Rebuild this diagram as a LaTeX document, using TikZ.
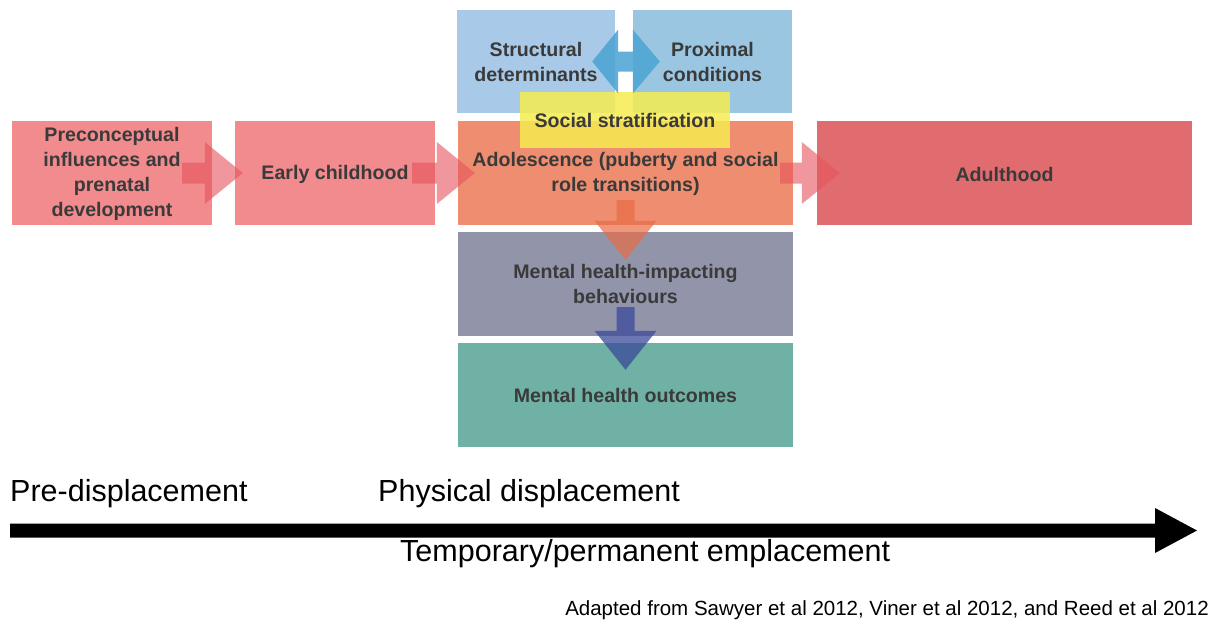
\documentclass[tikz,border=0pt]{standalone}
\usepackage{fontspec}
\setmainfont{Liberation Sans}
\usetikzlibrary{calc}

\definecolor{pinkbox}{HTML}{F28B8D}
\definecolor{adultbox}{HTML}{E06C6F}
\definecolor{adolbox}{HTML}{EE8D6F}
\definecolor{structbox}{HTML}{A8C9E8}
\definecolor{proxbox}{HTML}{9BC6E1}
\definecolor{stratbox}{HTML}{F6EC50}
\definecolor{behavbox}{HTML}{9294AA}
\definecolor{outbox}{HTML}{6FB1A5}
\definecolor{labeltext}{HTML}{3A3A3A}
\definecolor{redarrow}{HTML}{E5535B}
\definecolor{orangearrow}{HTML}{E86B45}
\definecolor{navyarrow}{HTML}{3A4A9A}
\definecolor{bluearrow}{HTML}{4AA3D4}

% horizontal block arrow: tail point, tip point, fill style
\newcommand\blockR[3]{%
  \fill[#3] let \p1=#1, \p2=#2 in
    (\x1,\y1+10.5pt) -- (\x2-38pt,\y1+10.5pt) -- (\x2-38pt,\y1+31pt) -- (\x2,\y1)
    -- (\x2-38pt,\y1-31pt) -- (\x2-38pt,\y1-10.5pt) -- (\x1,\y1-10.5pt) -- cycle;}
% vertical (downward) block arrow: tail point, tip point, fill style
\newcommand\blockD[3]{%
  \fill[#3] let \p1=#1, \p2=#2 in
    (\x1-9pt,\y1) -- (\x1-9pt,\y2+39pt) -- (\x1-31pt,\y2+39pt) -- (\x1,\y2)
    -- (\x1+31pt,\y2+39pt) -- (\x1+9pt,\y2+39pt) -- (\x1+9pt,\y1) -- cycle;}

\begin{document}
\begin{tikzpicture}[x=1pt,y=-1pt,
  box/.style={rectangle, inner sep=0pt, draw=none, minimum width=#1},
  box/.default=200pt,
  boxlabel/.style={align=center, text=labeltext, inner sep=0pt,
    font=\bfseries\fontsize{19.6}{25}\selectfont},
  phase/.style={inner sep=0pt, anchor=west, font=\fontsize{30.5}{34}\selectfont},
]
\useasboundingbox (0,0) rectangle (1211,624);
\fill[white] (0,0) rectangle (1211,624);

% life-course boxes
\node[box=200pt, minimum height=104pt, fill=pinkbox] (pre) at (112,173) {};
\node[box=200pt, minimum height=104pt, fill=pinkbox] (early) at (335,173) {};
\node[box=335pt, minimum height=104pt, fill=adolbox] (adol) at (625.5,173) {};
\node[box=375pt, minimum height=104pt, fill=adultbox] (adult) at (1004.5,173) {};

% determinants above adolescence
\node[box=158pt, minimum height=103pt, fill=structbox] (struct) at (536,61.5) {};
\node[box=159pt, minimum height=103pt, fill=proxbox] (prox) at (712.5,61.5) {};

% outcomes below adolescence
\node[box=335pt, minimum height=104pt, fill=behavbox] (behav) at (625.5,284) {};
\node[box=335pt, minimum height=104pt, fill=outbox] (out) at (625.5,395) {};

% social stratification band
\node[box=210pt, minimum height=56pt, fill=stratbox, fill opacity=0.85] (strat) at (625,120) {};

% structural <-> proximal
\fill[bluearrow, opacity=0.85]
  ($(struct.east)+(3,-10)$) -- ($(struct.east)+(3,-32)$) -- ($(struct.east)+(-23,0)$)
  -- ($(struct.east)+(3,32)$) -- ($(struct.east)+(3,10)$)
  -- ($(prox.west)+(0,10)$) -- ($(prox.west)+(0,32)$) -- ($(prox.west)+(27,0)$)
  -- ($(prox.west)+(0,-32)$) -- ($(prox.west)+(0,-10)$) -- cycle;

% life-course arrows
\blockR{($(pre.east)+(-30,0)$)}{($(early.west)+(8,0)$)}{redarrow, opacity=0.6}
\blockR{($(early.east)+(-23,0)$)}{($(adol.west)+(17,0)$)}{redarrow, opacity=0.6}
\blockR{($(adol.east)+(-13,0)$)}{($(adult.west)+(23,0)$)}{redarrow, opacity=0.6}

% downward arrows
\blockD{($(adol.south)+(0,-25)$)}{($(behav.north)+(0,28)$)}{orangearrow, opacity=0.7}
\blockD{($(behav.south)+(0,-29)$)}{($(out.north)+(0,27)$)}{navyarrow, opacity=0.75}

% box labels
\node[boxlabel] at ($(pre)+(0,1)$) {Preconceptual\\influences and\\prenatal\\development};
\node[boxlabel] at ($(early)+(0,1)$) {Early childhood};
\node[boxlabel] at ($(adol)+(0,1)$) {Adolescence (puberty and social\\role transitions)};
\node[boxlabel] at ($(adult)+(0,1)$) {Adulthood};
\node[boxlabel] at (struct) {Structural\\determinants};
\node[boxlabel] at (prox) {Proximal\\conditions};
\node[boxlabel] at (strat) {Social stratification};
\node[boxlabel] at (behav) {Mental health-impacting\\behaviours};
\node[boxlabel] at (out) {Mental health outcomes};

% displacement timeline
\coordinate (tstart) at (10,530.5);
\coordinate (tend) at (1197,530.5);
\fill[black] let \p1=(tstart), \p2=(tend) in
  (\x1,\y1+7pt) -- (\x2-42pt,\y1+7pt) -- (\x2-42pt,\y1+22.5pt) -- (\x2,\y1)
  -- (\x2-42pt,\y1-22.5pt) -- (\x2-42pt,\y1-7pt) -- (\x1,\y1-7pt) -- cycle;

\node[phase] (prephase) at (10,494) {Pre-displacement};
\node[phase] (physphase) at (378,494) {Physical displacement};
\node[phase] (empphase) at (400,554) {Temporary/permanent emplacement};

\node[inner sep=0pt, anchor=east, font=\fontsize{20.5}{24}\selectfont] (cite) at (1209,610)
  {Adapted from Sawyer et al 2012, Viner et al 2012, and Reed et al 2012};
\end{tikzpicture}
\end{document}
